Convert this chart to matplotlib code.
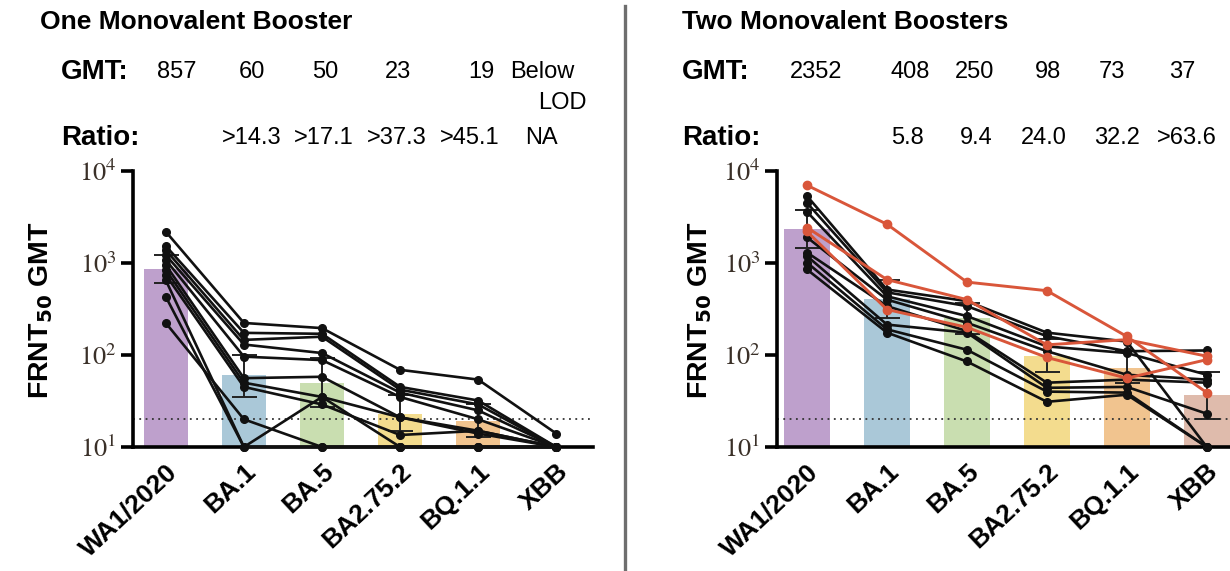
import numpy as np
import matplotlib
matplotlib.use("Agg")
import matplotlib.pyplot as plt
from matplotlib.lines import Line2D
from matplotlib.ticker import FixedLocator, FuncFormatter, NullLocator

# ---------------- data ----------------
variants = ['WA1/2020', 'BA.1', 'BA.5', 'BA2.75.2', 'BQ.1.1', 'XBB']
bar_colors = ['#BEA0CC', '#AAC8D8', '#C9DEB0', '#F3DC8E', '#F1C48F', '#DFBBAC']

# One monovalent booster
gmt_one = [857, 60, 50, 23, 19, np.nan]
gmt_one_labels = ['857', '60', '50', '23', '19', 'Below']
ratio_one_labels = ['', '>14.3', '>17.1', '>37.3', '>45.1', 'NA']
err_one_lo = [600, 35, 27, 15, 13, np.nan]
err_one_hi = [1220, 100, 93, 37, 29, np.nan]
one_black = [
    [2190, 223, 196, 69, 54, 14],
    [1530, 174, 170, 45, 32, 10],
    [1380, 146, 158, 42, 29, 10],
    [1220, 130, 105, 39, 25, 10],
    [1080, 96, 88, 35, 20, 10],
    [950, 56, 58, 21, 15, 10],
    [840, 50, 35, 21, 14, 10],
    [740, 45, 29, 13.5, 15, 10],
    [650, 10, 10, 10, 10, 10],
    [430, 10, 35, 10, 10, 10],
    [223, 20, 10, 10, 10, 10],
]
one_red = []

# Two monovalent boosters
gmt_two = [2352, 408, 250, 98, 73, 37]
gmt_two_labels = ['2352', '408', '250', '98', '73', '37']
ratio_two_labels = ['', '5.8', '9.4', '24.0', '32.2', '>63.6']
err_two_lo = [1450, 250, 170, 65, 50, 20]
err_two_hi = [3800, 660, 370, 150, 110, 66]
two_black = [
    [5350, 515, 385, 175, 140, 10],
    [4500, 480, 340, 160, 110, 112],
    [3600, 435, 265, 124, 105, 61],
    [1900, 400, 224, 110, 61, 54],
    [1300, 340, 182, 50, 54, 50],
    [1190, 214, 175, 44, 45, 23],
    [1010, 190, 114, 40, 39, 10],
    [850, 175, 85, 31, 37, 10],
]
two_red = [
    [7000, 2640, 620, 500, 159, 39],
    [2430, 660, 400, 129, 147, 97],
    [2200, 312, 200, 94, 56, 89],
]
LOD = 20

# ---------------- figure ----------------
W, H = 1230, 571
fig = plt.figure(figsize=(W / 100, H / 100), dpi=100)
SANS = ['Liberation Sans', 'DejaVu Sans']
RED = '#D9563A'


def fx(px):
    return px / W


def fy(py):
    return 1 - py / H


def panel(ax, gmt, err_lo, err_hi, blacks, reds, xlim):
    x = np.arange(len(variants))
    ax.set_yscale('log')
    ax.set_ylim(10, 1e4)
    ax.set_xlim(*xlim)
    ax.bar(x, gmt, width=0.57, color=bar_colors, zorder=1)
    gm = np.array(gmt, dtype=float)
    lo = np.array(err_lo, dtype=float)
    hi = np.array(err_hi, dtype=float)
    ok = ~np.isnan(gm)
    ax.errorbar(x[ok], gm[ok], yerr=[gm[ok] - lo[ok], hi[ok] - gm[ok]],
                fmt='none', ecolor='#222222', elinewidth=1.4, capsize=9,
                capthick=1.4, zorder=2)
    ax.axhline(LOD, color='#333333', lw=1.3, ls=(0, (1, 2.5)), zorder=1.5)
    for s in blacks:
        ax.plot(x, s, '-o', color='#111111', lw=1.9, ms=5.5, clip_on=False, zorder=3)
    for s in reds:
        ax.plot(x, s, '-o', color=RED, lw=2.1, ms=6, clip_on=False, zorder=4)
    for side in ['top', 'right']:
        ax.spines[side].set_visible(False)
    ax.spines['left'].set_linewidth(2.6)
    ax.spines['bottom'].set_linewidth(2.6)
    ax.yaxis.set_major_locator(FixedLocator([10, 100, 1000, 10000]))
    ax.yaxis.set_minor_locator(NullLocator())
    ax.yaxis.set_major_formatter(FuncFormatter(lambda v, p: r'$10^{%d}$' % round(np.log10(v))))
    ax.tick_params(axis='y', length=9, width=2.6, pad=3, labelsize=19)
    for t in ax.get_yticklabels():
        t.set_math_fontfamily('stix')
        t.set_color('#3a3028')
    ax.set_xticks(x)
    ax.set_xticklabels(variants, rotation=43, ha='right', va='top',
                       rotation_mode='anchor', fontsize=19, fontweight='bold',
                       family=SANS)
    ax.tick_params(axis='x', length=0, pad=9)


axL = fig.add_axes([fx(133), 124 / H, (593 - 133) / W, 276 / H])
panel(axL, gmt_one, err_one_lo, err_one_hi, one_black, one_red, (-0.42, 5.47))
axR = fig.add_axes([fx(777), 124 / H, (1230 - 777) / W, 276 / H])
panel(axR, gmt_two, err_two_lo, err_two_hi, two_black, two_red, (-0.375, 5.29))

# y labels
for xc in (41, 700):
    fig.text(fx(xc), fy(310), r'FRNT$_{\mathbf{50}}$ GMT', rotation=90,
             ha='center', va='center', fontsize=20.5, fontweight='bold',
             family=SANS, math_fontfamily='dejavusans')

# titles
fig.text(fx(40), fy(22), 'One Monovalent Booster', ha='left', va='center',
         fontsize=19, fontweight='bold', family=SANS)
fig.text(fx(682), fy(22), 'Two Monovalent Boosters', ha='left', va='center',
         fontsize=19, fontweight='bold', family=SANS)

# GMT / ratio rows
hdr_fs = 17
lab_fs = 20
fig.text(fx(61), fy(72), 'GMT:', ha='left', va='center', fontsize=lab_fs,
         fontweight='bold', family=SANS)
fig.text(fx(61), fy(138), 'Ratio:', ha='left', va='center', fontsize=lab_fs,
         fontweight='bold', family=SANS)
fig.text(fx(682), fy(72), 'GMT:', ha='left', va='center', fontsize=lab_fs,
         fontweight='bold', family=SANS)
fig.text(fx(682), fy(138), 'Ratio:', ha='left', va='center', fontsize=lab_fs,
         fontweight='bold', family=SANS)

gmt_one_x = [177, 252, 325, 398, 481, 542]
ratio_one_x = [0, 252, 324, 397, 470, 541]
gmt_two_x = [816, 910, 975, 1048, 1112, 1182]
ratio_two_x = [0, 907, 976, 1044, 1117, 1187]

for lab, xc in zip(gmt_one_labels, gmt_one_x):
    fig.text(fx(xc), fy(72), lab, ha='center', va='center', fontsize=hdr_fs, family=SANS)
fig.text(fx(562), fy(103), 'LOD', ha='center', va='center', fontsize=hdr_fs, family=SANS)
for lab, xc in zip(ratio_one_labels, ratio_one_x):
    if lab:
        fig.text(fx(xc), fy(138), lab, ha='center', va='center', fontsize=hdr_fs, family=SANS)
for lab, xc in zip(gmt_two_labels, gmt_two_x):
    fig.text(fx(xc), fy(72), lab, ha='center', va='center', fontsize=hdr_fs, family=SANS)
for lab, xc in zip(ratio_two_labels, ratio_two_x):
    if lab:
        fig.text(fx(xc), fy(138), lab, ha='center', va='center', fontsize=hdr_fs, family=SANS)

# divider
fig.add_artist(Line2D([fx(625), fx(625)], [0, fy(6)], transform=fig.transFigure,
                      color='#6e6e6e', lw=2.4))

fig.savefig('out.png', dpi=100)
